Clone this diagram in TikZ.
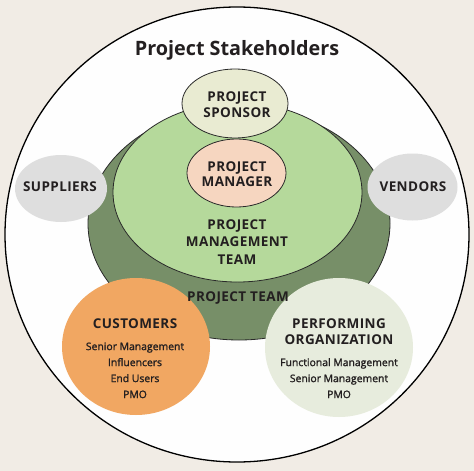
\documentclass[tikz,border=0pt]{standalone}
\usepackage{fontspec}
\setmainfont{Open Sans}
\newfontfamily\subfont[FakeBold=1.5]{Open Sans}
\newfontfamily\capfont[LetterSpace=3]{Open Sans Bold}
\usetikzlibrary{shapes.geometric}
\definecolor{bgc}{HTML}{F1ECE5}
\definecolor{outerc}{HTML}{FEFEFE}
\definecolor{teamc}{HTML}{778F68}
\definecolor{pmtc}{HTML}{B5D99B}
\definecolor{sponsorc}{HTML}{E9EBD2}
\definecolor{managerc}{HTML}{F6D6C0}
\definecolor{grayc}{HTML}{DEDEDE}
\definecolor{orangec}{HTML}{F1A762}
\definecolor{perfc}{HTML}{E7ECDD}
\definecolor{txtc}{HTML}{231F20}
\definecolor{linec}{HTML}{2A2A2A}
\tikzset{
  blob/.style={ellipse, inner sep=0pt, minimum width=#1},
  outlined/.style={draw=linec, line width=0.8pt},
  lbl/.style={inner sep=0pt, anchor=south, text depth=0pt, align=center, text=txtc,
    font=\fontsize{13.5}{15.6}\capfont},
  sublbl/.style={inner sep=0pt, anchor=south, text depth=0pt, align=center, text=txtc,
    font=\fontsize{10.4}{16}\subfont},
}
\begin{document}
\begin{tikzpicture}[x=1pt,y=-1pt]
\useasboundingbox (0,0) rectangle (474,471);
\fill[bgc] (0,0) rectangle (474,471);
% shapes
\node[blob=464pt, minimum height=455pt, fill=outerc, draw=black, line width=1.3pt] (outer) at (237,234.5) {};
\node[blob=302pt, minimum height=232.8pt, fill=teamc, outlined] (team) at (239,223.6) {};
\node[blob=249pt, minimum height=179.4pt, fill=pmtc, outlined] (pmt) at (237.5,192.3) {};
\node[blob=92pt, minimum height=67pt, fill=grayc] (suppliers) at (61,188.5) {};
\node[blob=90pt, minimum height=67pt, fill=grayc] (vendors) at (412.5,187) {};
\node[blob=148pt, minimum height=137pt, fill=orangec] (customers) at (136,346.5) {};
\node[blob=148pt, minimum height=139pt, fill=perfc] (perforg) at (339,347.5) {};
\node[blob=106pt, minimum height=69pt, fill=sponsorc, outlined] (sponsor) at (235,103.5) {};
\node[blob=99pt, minimum height=68pt, fill=managerc, outlined] (manager) at (236.5,173) {};
% texts
\node[lbl, font=\fontsize{19.8}{22}\selectfont\bfseries] (title) at (237,55.5) {Project Stakeholders};
\node[lbl] (tsponsor) at (237,117.3) {PROJECT\\SPONSOR};
\node[lbl, font=\fontsize{13.5}{15}\capfont] (tmanager) at (237,186.7) {PROJECT\\MANAGER};
\node[lbl] (tsuppliers) at (60,191.7) {SUPPLIERS};
\node[lbl] (tvendors) at (413,192) {VENDORS};
\node[lbl, font=\fontsize{13.5}{17.2}\capfont] (tpmt) at (237,264.3) {PROJECT\\MANAGEMENT\\TEAM};
\node[lbl] (tteam) at (238,301.7) {PROJECT TEAM};
\node[lbl] (tcustomers) at (135,328.3) {CUSTOMERS};
\node[sublbl] (tcustlist) at (135,398.3) {Senior Management\\Influencers\\End Users\\PMO};
\node[lbl, font=\fontsize{13.5}{16.7}\capfont] (tperf) at (339,345) {PERFORMING\\ORGANIZATION};
\node[sublbl] (tperflist) at (339,398.3) {Functional Management\\Senior Management\\PMO};
\end{tikzpicture}
\end{document}
